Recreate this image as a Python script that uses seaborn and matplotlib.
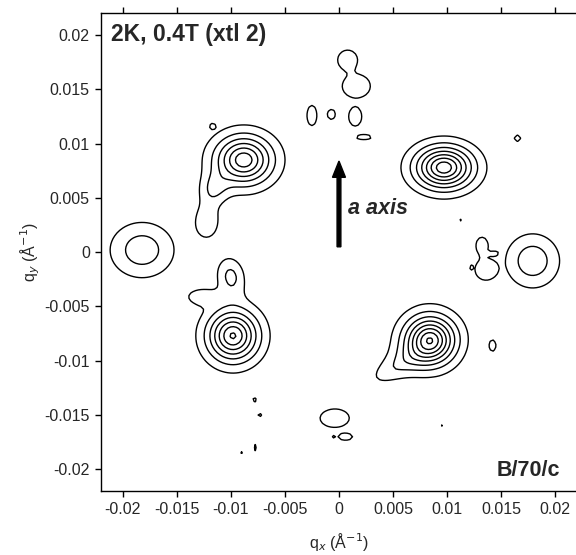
import numpy as np
import matplotlib
matplotlib.use("Agg")
import matplotlib.pyplot as plt
import seaborn as sns

# diffraction spots: centre (A^-1), peak height, widths, tilt (deg), profile power
# main vortex-lattice peaks, then tails, then weak blobs and specks
spot_x = [-0.0088, 0.0097, 0.0084, -0.0098, -0.0182, 0.0179,
          -0.0116, -0.0122, -0.0100, -0.0127, 0.0055,
          0.0008, 0.0016, -0.0025, -0.0007, 0.0015, 0.0023, 0.0165,
          0.0135, 0.0132, 0.0143, 0.0142, -0.0004, 0.0006, -0.0117,
          -0.0078, -0.0073, -0.0090, -0.0077, 0.0096, -0.0005, 0.0112, 0.0122]
spot_y = [0.0085, 0.0078, -0.0081, -0.0077, 0.0002, -0.0008,
          0.0058, 0.0028, -0.0022, -0.0041, -0.0104,
          0.0177, 0.0153, 0.0126, 0.0127, 0.0125, 0.0106, 0.0105,
          -0.0016, 0.0006, -0.0001, -0.0086, -0.0153, -0.0170, 0.0116,
          -0.0136, -0.0150, -0.0184, -0.0180, -0.0159, -0.0170, 0.0029, -0.0014]
spot_amp = [6.8, 7.8, 7.8, 7.2, 2.8, 2.9,
            1.7, 1.7, 2.2, 1.6, 1.6,
            1.8, 1.8, 1.8, 1.8, 1.8, 1.8, 1.8,
            1.5, 1.5, 1.0, 1.8, 1.8, 1.5, 1.3,
            1.3, 1.3, 1.3, 1.3, 1.3, 1.3, 1.3, 1.3]
spot_wx = [0.0026, 0.0026, 0.0023, 0.0023, 0.0029, 0.0024,
           0.0013, 0.0013, 0.0013, 0.0015, 0.0034,
           0.0011, 0.00155, 0.00055, 0.00044, 0.00072, 0.00083, 0.00033,
           0.0012, 0.0007, 0.0005, 0.00036, 0.0016, 0.00088, 0.0003,
           0.0003, 0.0003, 0.0003, 0.0002, 0.0002, 0.0002, 0.0002, 0.0002]
spot_wy = [0.0022, 0.0019, 0.0022, 0.0023, 0.0025, 0.0024,
           0.0015, 0.0018, 0.0018, 0.0008, 0.0013,
           0.0011, 0.0013, 0.0011, 0.00055, 0.00105, 0.00028, 0.00033,
           0.0012, 0.0010, 0.00025, 0.0006, 0.0010, 0.00044, 0.0003,
           0.0003, 0.0003, 0.0002, 0.0005, 0.0003, 0.0002, 0.0002, 0.0002]
spot_tilt = [0, 0, 0, 0, 0, 0,
             -20, 0, 10, 0, 30,
             0, 0, 0, 0, 0, 0, 0,
             0, 0, 0, 0, 0, 0, 0,
             0, 0, 0, 0, 0, 0, 0, 0]
spot_power = [1.7, 1.7, 1.7, 1.7, 1.7, 1.7,
              2, 2, 2, 2, 1.7,
              3, 3, 3, 3, 3, 3, 3,
              3, 3, 3, 3, 3, 3, 3,
              3, 3, 3, 3, 3, 3, 3, 3]

contour_levels = [1, 2, 3, 4, 5, 6, 7, 8]
tick_values = [-0.02, -0.015, -0.01, -0.005, 0, 0.005, 0.01, 0.015, 0.02]

sns.set_style("ticks")
plt.rcParams["font.family"] = ["Liberation Sans", "DejaVu Sans"]
plt.rcParams["axes.unicode_minus"] = False

# build the intensity map from the spots
q = np.arange(-0.022, 0.0221, 0.00025)
qx, qy = np.meshgrid(q, q)
intensity = np.zeros_like(qx)
for x0, y0, a, wx, wy, t, p in zip(spot_x, spot_y, spot_amp, spot_wx, spot_wy,
                                   spot_tilt, spot_power):
    th = np.deg2rad(t)
    dx, dy = qx - x0, qy - y0
    u = dx * np.cos(th) + dy * np.sin(th)
    v = -dx * np.sin(th) + dy * np.cos(th)
    rho = np.sqrt((u / wx) ** 2 + (v / wy) ** 2)
    intensity += a * np.exp(-rho ** p)

fig = plt.figure(figsize=(5.76, 5.55), dpi=100)
ax = fig.add_axes([0.1753, 0.1153, 0.8264, 0.8605])
ax.contour(qx, qy, intensity, levels=contour_levels, colors="black", linewidths=1.0)

ax.arrow(0, 0.0005, 0, 0.0079, width=0.00035, head_width=0.0012, head_length=0.0015,
         length_includes_head=True, color="black")
ax.text(0.0008, 0.0040, "a axis", fontsize=15.5, fontweight="bold", fontstyle="italic",
        ha="left", va="center")
ax.text(-0.0211, 0.0201, "2K, 0.4T (xtl 2)", fontsize=16.5, fontweight="bold",
        ha="left", va="center")
ax.text(0.0204, -0.0201, "B/70/c", fontsize=15.5, fontweight="bold", ha="right", va="center")

ax.set_xlim(-0.022, 0.022)
ax.set_ylim(-0.022, 0.022)
ax.set_xticks(tick_values)
ax.set_xticklabels([f"{v:g}" for v in tick_values])
ax.set_yticks(tick_values)
ax.set_yticklabels([f"{v:g}" for v in tick_values])
ax.tick_params(axis="both", labelsize=11.5, length=4, width=1, pad=4, color="black")
ax.tick_params(axis="x", top=True)
for side in ["left", "bottom", "top"]:
    ax.spines[side].set_visible(True)
    ax.spines[side].set_linewidth(1.0)
    ax.spines[side].set_color("black")
ax.spines["right"].set_visible(False)

ax.set_xlabel("q$_x$ (Å$^{-1}$)", fontsize=11.5, labelpad=10)
ax.set_ylabel("q$_y$ (Å$^{-1}$)", fontsize=11.5, labelpad=2)

fig.savefig("out.png", dpi=100)
